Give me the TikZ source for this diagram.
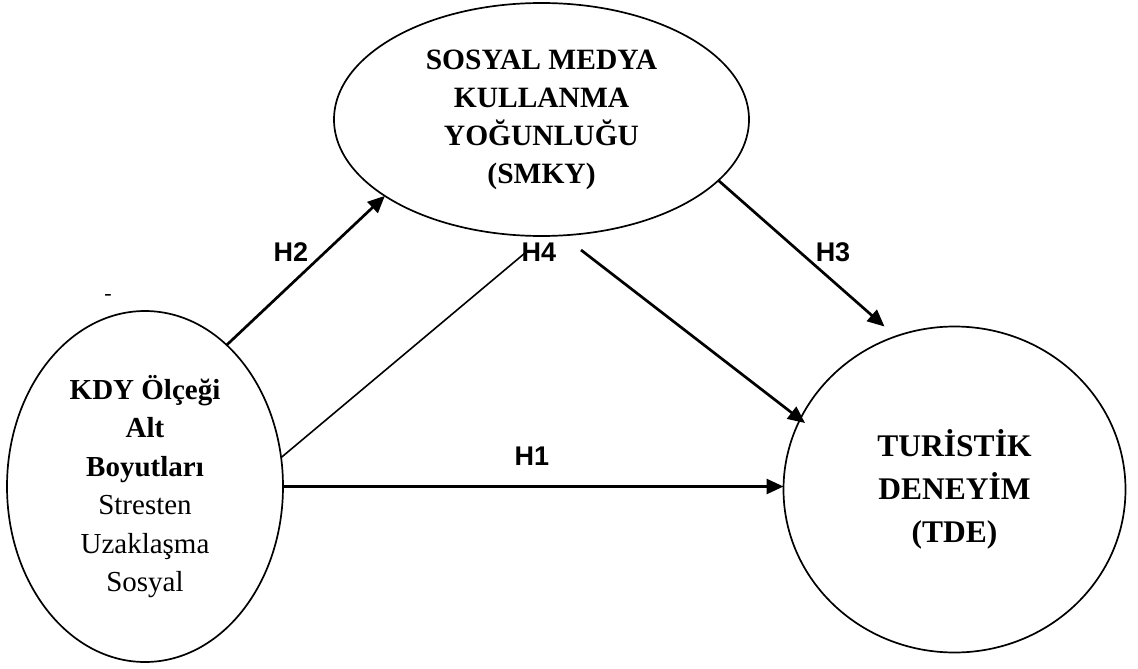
\documentclass[tikz,border=0pt]{standalone}
\usepackage{fontspec}
\setmainfont{Liberation Serif}
\newfontfamily\hfont{Liberation Sans}
\usetikzlibrary{shapes.geometric,arrows.meta}
\begin{document}
\begin{tikzpicture}[x=1pt,y=-1pt,
  oval/.style={draw,ellipse,line width=1.7pt,inner sep=0pt,outer sep=0pt,align=center},
  hlabel/.style={inner sep=0pt,font=\hfont\bfseries\fontsize{27}{32}\selectfont},
  arrowline/.style={line width=2.7pt,-{Triangle[length=17pt,width=15pt]}},
  thinline/.style={line width=1.6pt}]
\useasboundingbox (0,0) rectangle (1138,669);
% ellipses
\node[oval,minimum width=415pt,minimum height=233pt,font=\bfseries\fontsize{29.5}{38}\selectfont]
  (smky) at (541.5,119.5) {SOSYAL MEDYA\\KULLANMA\\YOĞUNLUĞU\\(SMKY)};
\node[oval,minimum width=276pt,minimum height=351pt,font=\fontsize{29}{38.5}\selectfont]
  (kdy) at (145,486.5) {\textbf{KDY Ölçeği}\\\textbf{Alt}\\\textbf{Boyutları}\\Stresten\\Uzaklaşma\\Sosyal};
\node[oval,minimum width=342pt,minimum height=326pt,font=\bfseries\fontsize{31.5}{43}\selectfont]
  (tde) at (954.5,489.5) {TURİSTİK\\DENEYİM\\(TDE)};
% stray dash
\node[inner sep=0pt,font=\fontsize{22}{26}\selectfont] (dash) at (108,297) {-};
% labels
\node[hlabel] (h2) at (291,252) {H2};
\node[hlabel] (h4) at (539,252) {H4};
\node[hlabel] (h1) at (532,456) {H1};
\node[hlabel] (h3) at (833,252) {H3};
% helper coordinates for the interrupted H4 path
\coordinate (h4a) at (525,253);
\coordinate (h4b) at (581,250);
% connectors
\draw[arrowline] (kdy.60.4) -- (smky.206.3);
\draw[arrowline,shorten >=15pt] (smky.-19.8) -- (tde.111.5);
\draw[thinline] (kdy.12.6) -- (h4a);
\draw[arrowline] (h4b) -- (805,423) coordinate (h4end);
\draw[arrowline] (kdy.east) -- (kdy.east -| tde.west);
\end{tikzpicture}
\end{document}
